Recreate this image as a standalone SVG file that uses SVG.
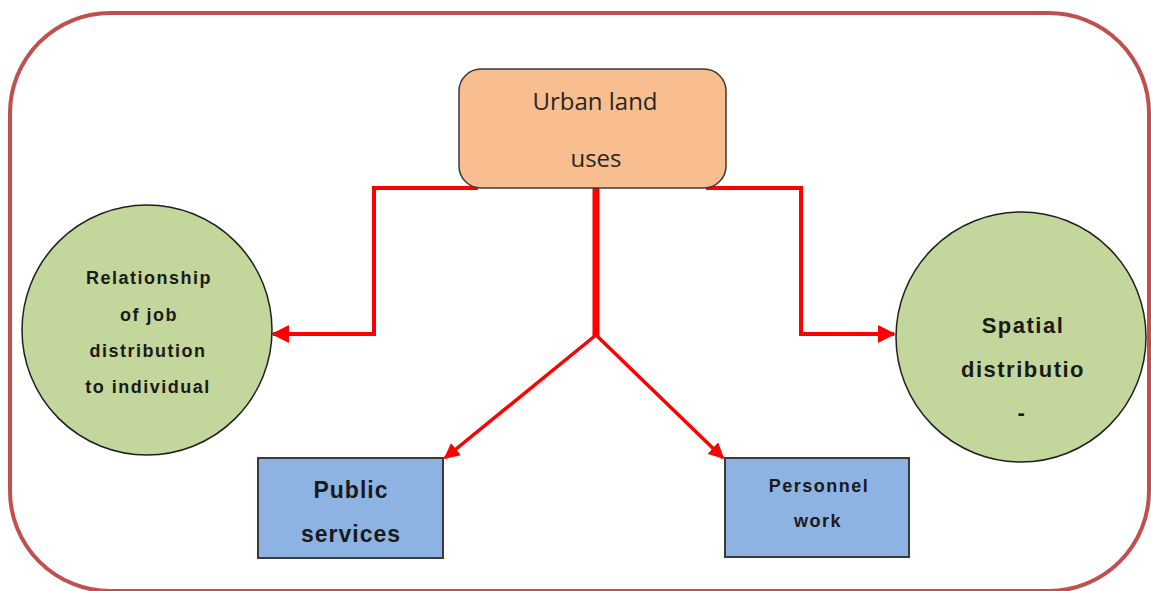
<svg xmlns="http://www.w3.org/2000/svg" width="1151" height="591" viewBox="0 0 1151 591">
<defs>
<style>
.frame{fill:none;stroke:#c0504d;stroke-width:4}
.circ{fill:#c3d69b;stroke:#1f1f1f;stroke-width:1.5}
.box{fill:#8db3e2;stroke:#3a3a3a;stroke-width:2}
.top{fill:#f9be8f;stroke:#3a3a3a;stroke-width:1.5}
.link{fill:none;stroke:#ff0000;stroke-width:4}
.t{font-family:"Liberation Sans",Arial,sans-serif;font-weight:bold;fill:#1a1a1a;text-anchor:middle}
.s{font-size:18px;letter-spacing:1.5px}
.l{font-size:22px;letter-spacing:1.5px}
.u{font-family:"Open Sans","Noto Sans",sans-serif;fill:#262626;text-anchor:middle;font-size:24px}
</style>
<marker id="ah" viewBox="0 0 10 10" refX="9" refY="5" markerWidth="4.5" markerHeight="4.5" orient="auto" markerUnits="strokeWidth">
<path d="M0,0 L10,5 L0,10 z" fill="#ff0000"/>
</marker>
</defs>
<rect width="1151" height="591" fill="#ffffff"/>
<rect class="frame" x="10" y="13" width="1139" height="578" rx="100" ry="100"/>
<g id="connectors">
<polyline class="link" points="478,188 374,188 374,334 273,334" marker-end="url(#ah)"/>
<polyline class="link" points="706,188 801,188 801,334 894,334" marker-end="url(#ah)"/>
<line x1="596" y1="188" x2="596" y2="336" stroke="#ff0000" stroke-width="7"/>
<polyline class="link" points="596,335 445,458" style="stroke-width:3.5" marker-end="url(#ah)"/>
<polyline class="link" points="596,335 723,458" style="stroke-width:3.5" marker-end="url(#ah)"/>
</g>
<g id="urban">
<rect class="top" x="459" y="69" width="267" height="119" rx="22" ry="22"/>
<text class="u" x="595" y="110">Urban land</text>
<text class="u" x="596" y="167">uses</text>
</g>
<g id="relationship">
<circle class="circ" cx="147" cy="330" r="125"/>
<text class="t s" x="149" y="284">Relationship</text>
<text class="t s" x="149" y="321">of job</text>
<text class="t s" x="148" y="357">distribution</text>
<text class="t s" x="148" y="393">to individual</text>
</g>
<g id="spatial">
<circle class="circ" cx="1021" cy="337" r="125"/>
<text class="t l" x="1023" y="333">Spatial</text>
<text class="t l" x="1023" y="377">distributio</text>
<text class="t l" x="1022" y="420">-</text>
</g>
<g id="public">
<rect class="box" x="258" y="458" width="185" height="100"/>
<text class="t" x="351" y="498" font-size="23" letter-spacing="1">Public</text>
<text class="t" x="351" y="542" font-size="23" letter-spacing="1">services</text>
</g>
<g id="personnel">
<rect class="box" x="725" y="458" width="184" height="99"/>
<text class="t s" x="819" y="492">Personnel</text>
<text class="t s" x="818" y="527">work</text>
</g>
</svg>
